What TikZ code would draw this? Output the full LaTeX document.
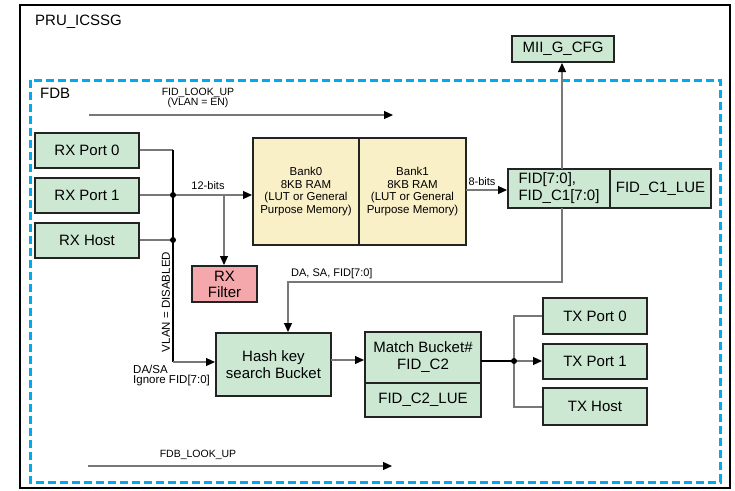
\documentclass[tikz,border=0pt]{standalone}
\usepackage{fontspec}
\setmainfont{Liberation Sans}
\usetikzlibrary{arrows.meta}
\definecolor{boxgreen}{RGB}{204,232,211}
\definecolor{boxyellow}{RGB}{250,240,200}
\definecolor{boxpink}{RGB}{245,168,172}
\definecolor{fdbblue}{RGB}{0,170,235}
\definecolor{conngray}{RGB}{120,120,120}
\definecolor{boxedge}{RGB}{35,35,35}
\tikzset{
  blk/.style={draw=boxedge, line width=2pt, inner sep=0pt, align=center,
    font=\fontsize{15}{17}\selectfont},
  gbox/.style={blk, fill=boxgreen},
  ybox/.style={blk, fill=boxyellow, font=\fontsize{11.5}{12.6}\selectfont},
  pbox/.style={blk, fill=boxpink},
  conn/.style={draw=conngray, line width=1.1pt},
  bus/.style={draw=black, line width=1.2pt},
  tip/.style={-{Triangle[length=9pt,width=8pt,color=black]}},
  lbl/.style={font=\fontsize{10.5}{11.5}\selectfont, inner sep=0pt, align=center},
  dot/.style={circle, fill=black, inner sep=0pt, minimum size=6pt}
}
\begin{document}
\begin{tikzpicture}[x=1pt,y=-1pt]
\useasboundingbox[fill=white] (0,0) rectangle (735,490);
% outer and FDB frames
\draw[black, line width=2.5pt] (20,5) rectangle (730,488);
\node[anchor=west, inner sep=0pt, font=\fontsize{15}{17}\selectfont] (pru) at (35,22) {PRU\_ICSSG};
\draw[fdbblue, line width=3pt, dash pattern=on 8pt off 4pt] (30,80) rectangle (720,482);
\node[anchor=west, inner sep=0pt, font=\fontsize{15}{17}\selectfont] (fdb) at (40,93) {FDB};

% look-up arrows
\coordinate (fl0) at (89,115);
\coordinate (fl1) at (393,115);
\draw[conn, tip] (fl0) -- (fl1);
\node[lbl] (fltxt) at (198,98) {FID\_LOOK\_UP\\[-1.5pt](VLAN = EN)};
\coordinate (dl0) at (88,466);
\coordinate (dl1) at (392,466);
\draw[conn, tip] (dl0) -- (dl1);
\node[lbl] (dltxt) at (198,455) {FDB\_LOOK\_UP};

% RX boxes
\node[gbox, minimum width=104pt, minimum height=35pt] (rx0) at (87,150.5) {RX Port 0};
\node[gbox, minimum width=104pt, minimum height=35pt] (rx1) at (87,195.5) {RX Port 1};
\node[gbox, minimum width=104pt, minimum height=35pt] (rxh) at (87,240.5) {RX Host};

% banks
\node[ybox, minimum width=106pt, minimum height=107pt] (bank0) at (306,191.5) {Bank0\\8KB RAM\\(LUT or General\\Purpose Memory)};
\node[ybox, minimum width=107pt, minimum height=107pt] (bank1) at (412.5,191.5) {Bank1\\8KB RAM\\(LUT or General\\Purpose Memory)};

% FID box
\node[gbox, minimum width=102pt, minimum height=39pt, align=left] (fid1) at (559,188.5) {FID[7:0],\\FID\_C1[7:0]};
\node[gbox, minimum width=101pt, minimum height=39pt] (fid2) at (660.5,188.5) {FID\_C1\_LUE};
\node[gbox, minimum width=102pt, minimum height=26pt] (mii) at (563,49) {MII\_G\_CFG};

% RX filter, hash, match
\node[pbox, minimum width=65pt, minimum height=36pt, font=\fontsize{15}{16}\selectfont] (rxf) at (224.5,284) {RX\\Filter};
\node[gbox, minimum width=115pt, minimum height=63pt] (hash) at (273.5,364.5) {Hash key\\search Bucket};
\node[gbox, minimum width=116pt, minimum height=51pt] (match) at (423,357.5) {Match Bucket\#\\FID\_C2};
\node[gbox, minimum width=116pt, minimum height=34pt] (lue2) at (423,400) {FID\_C2\_LUE};

% TX boxes
\node[gbox, minimum width=104pt, minimum height=36pt] (tx0) at (595,316) {TX Port 0};
\node[gbox, minimum width=104pt, minimum height=35pt] (tx1) at (595,361.5) {TX Port 1};
\node[gbox, minimum width=104pt, minimum height=37pt] (txh) at (595,406.5) {TX Host};

% RX bus
\coordinate (b0) at (173,150);
\coordinate (b1) at (173,195);
\coordinate (b2) at (173,240);
\coordinate (b3) at (173,362);
\coordinate (fb) at (224,195);
\draw[conn] (rx0.east |- b0) -- (b0);
\draw[conn] (rx1.east |- b1) -- (b1);
\draw[conn] (rxh.east |- b2) -- (b2);
\draw[bus] (b0) -- (b3);
\draw[conn, tip] (b3) -- (b3 -| hash.west);
\draw[conn, tip] (b1) -- (b1 -| bank0.west);
\draw[conn, tip] (fb) -- (fb |- rxf.north);
\node[dot] (d1) at (b1) {};
\node[dot] (d2) at (b2) {};
\node[lbl, font=\fontsize{11}{12}\selectfont] (t12) at (208,186) {12-bits};
\node[lbl, font=\fontsize{11.5}{12}\selectfont, rotate=90] (tvlan) at (166,302) {VLAN = DISABLED};
\node[lbl, anchor=west, font=\fontsize{11.5}{12}\selectfont] (tdasa) at (133,369) {DA/SA};
\node[lbl, anchor=west, font=\fontsize{11.5}{12}\selectfont] (tign) at (133,381) {Ignore FID[7:0]};

% bank -> FID
\coordinate (e8) at (466,190);
\draw[conn, tip] (e8) -- (e8 -| fid1.west);
\node[lbl, font=\fontsize{11}{12}\selectfont] (t8) at (482,182) {8-bits};

% FID -> MII
\coordinate (fu) at (562,169);
\draw[conn, tip] (fu) -- (fu |- mii.south);

% FID -> hash
\coordinate (fd0) at (562,208);
\coordinate (fd1) at (562,282);
\coordinate (fd2) at (288,282);
\draw[conn, tip] (fd0) -- (fd1) -- (fd2) -- (fd2 |- hash.north);
\node[lbl, anchor=west, font=\fontsize{11}{12}\selectfont] (tda) at (291,274) {DA, SA, FID[7:0]};

% hash -> match
\coordinate (hm) at (331,360);
\draw[conn, tip] (hm) -- (hm -| match.west);

% match -> TX
\coordinate (m0) at (481,361);
\coordinate (tj) at (514,361);
\coordinate (tjt) at (514,316);
\coordinate (tjb) at (514,407);
\draw[bus] (m0) -- (tj);
\draw[conn, tip] (tj) -- (tj -| tx1.west);
\draw[conn] (tjt -| tx0.west) -- (tjt) -- (tjb) -- (tjb -| txh.west);
\node[dot] (d3) at (tj) {};
\end{tikzpicture}
\end{document}
